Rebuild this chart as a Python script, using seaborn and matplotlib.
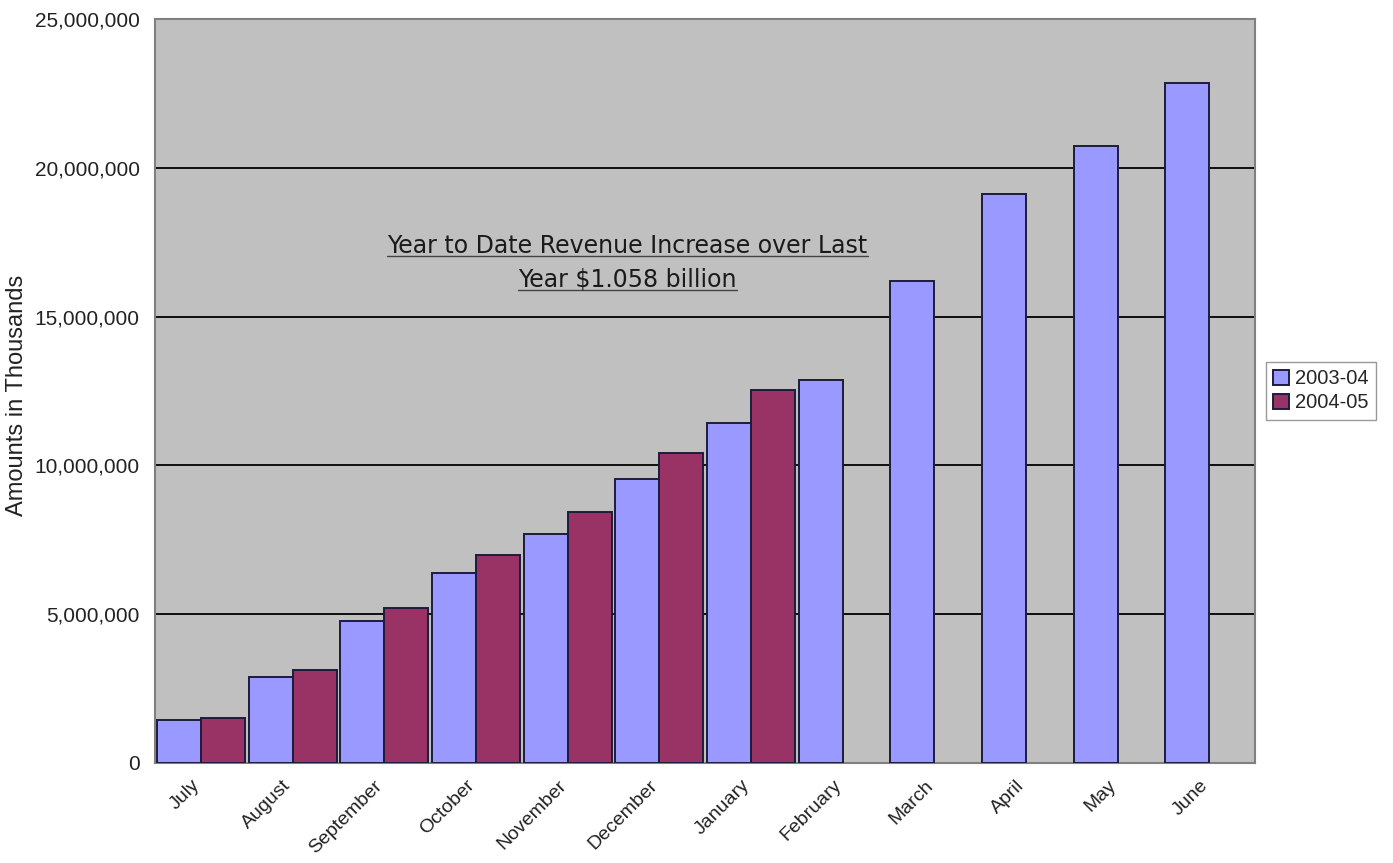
import matplotlib
matplotlib.use('Agg')
import numpy as np
import pandas as pd
import seaborn as sns
import matplotlib.pyplot as plt
import matplotlib.transforms as mtransforms
from matplotlib import font_manager
from matplotlib.lines import Line2D
from matplotlib.ticker import FuncFormatter

# dati (importi in migliaia)
months = ['July', 'August', 'September', 'October', 'November', 'December',
          'January', 'February', 'March', 'April', 'May', 'June']
rev_2003_04 = [1440000, 2880000, 4780000, 6380000, 7710000, 9530000,
               11430000, 12880000, 16210000, 19120000, 20720000, 22840000]
rev_2004_05 = [1500000, 3140000, 5220000, 6990000, 8430000, 10430000, 12520000]
years = ['2003-04', '2004-05']
colors = ['#9999FF', '#993366']

# tabella lunga per seaborn
df = pd.DataFrame({
    'month': months + months[:len(rev_2004_05)],
    'amount': rev_2003_04 + rev_2004_05,
    'year': [years[0]] * len(rev_2003_04) + [years[1]] * len(rev_2004_05),
})

sns.set_style('white')
plt.rcParams['font.family'] = ['Liberation Sans', 'DejaVu Sans']

fig = plt.figure(figsize=(13.93, 8.63), dpi=100)
ax = fig.add_axes([0.1113, 0.1159, 0.7897, 0.8621])
ax.set_facecolor('#C0C0C0')

sns.barplot(data=df, x='month', y='amount', hue='year', order=months,
            hue_order=years, palette=colors, saturation=1, width=0.96,
            edgecolor='#1C1C3C', linewidth=1.4, errorbar=None, ax=ax, zorder=3)

# griglia e assi
ax.set_axisbelow(True)
ax.set_ylim(0, 25000000)
ax.set_xlim(-0.5, len(months) - 0.5)
ax.set_yticks(np.arange(0, 25000001, 5000000))
ax.yaxis.set_major_formatter(FuncFormatter(lambda v, p: f'{v:,.0f}'))
ax.yaxis.grid(True, color='black', linewidth=1.3)
ax.xaxis.grid(False)
for s in ax.spines.values():
    s.set_color('#808080')
    s.set_linewidth(1.5)

ax.set_xticks(np.arange(-0.5, len(months), 1), minor=True)
ax.tick_params(axis='x', which='major', length=0, pad=10)
ax.tick_params(axis='x', which='minor', length=5, color='#808080')
ax.tick_params(axis='y', length=5, color='#808080', labelsize=15,
               labelcolor='#222222', pad=6)
ax.set_xticks(range(len(months)))
ax.set_xticklabels(months, rotation=45, ha='right', rotation_mode='anchor',
                   fontsize=14, color='#222222')
# sposta le etichette un po' a sinistra
shift = mtransforms.ScaledTranslation(-10 / 100, 0, fig.dpi_scale_trans)
for lab in ax.get_xticklabels():
    lab.set_transform(lab.get_transform() + shift)
ax.set_xlabel('')
ax.set_ylabel('')

# titolo asse y (carattere stretto se disponibile)
names = {f.name for f in font_manager.fontManager.ttflist}
if 'Liberation Sans Narrow' in names:
    yfam, ysize = 'Liberation Sans Narrow', 20
elif 'DejaVu Sans Condensed' in names:
    yfam, ysize = 'DejaVu Sans Condensed', 17
else:
    yfam, ysize = 'Liberation Sans', 17
fig.text(17 / 1393, (863 - 395) / 863, 'Amounts in Thousands', rotation=90,
         ha='center', va='center', fontsize=ysize, color='#222222',
         family=[yfam, 'DejaVu Sans'])

# legenda
handles, labels = ax.get_legend_handles_labels()
leg = ax.legend(handles, labels, loc='center left', bbox_to_anchor=(1.01, 0.5),
                fontsize=14.5, frameon=True, fancybox=False, edgecolor='#999999',
                facecolor='white', framealpha=1, handlelength=0.8,
                handleheight=0.8, handletextpad=0.3, borderpad=0.35,
                labelspacing=0.25, borderaxespad=0)
leg.get_frame().set_linewidth(1)

# annotazione sottolineata
note = ['Year to Date Revenue Increase over Last', 'Year $1.058 billion']
base_y = [(863 - 253) / 863, (863 - 287) / 863]
texts = []
for line, yy in zip(note, base_y):
    t = fig.text(627.5 / 1393, yy, line, ha='center', va='baseline',
                 fontsize=17, color='#1a1a1a', family=['DejaVu Sans'])
    texts.append(t)

fig.canvas.draw()
r = fig.canvas.get_renderer()
for t, yy in zip(texts, base_y):
    bb = t.get_window_extent(r)
    y_line = yy - 3.5 / 863
    fig.add_artist(Line2D([bb.x0 / 1393, bb.x1 / 1393], [y_line, y_line],
                          transform=fig.transFigure, color='#444444', lw=1))

fig.savefig('out.png', dpi=100)
